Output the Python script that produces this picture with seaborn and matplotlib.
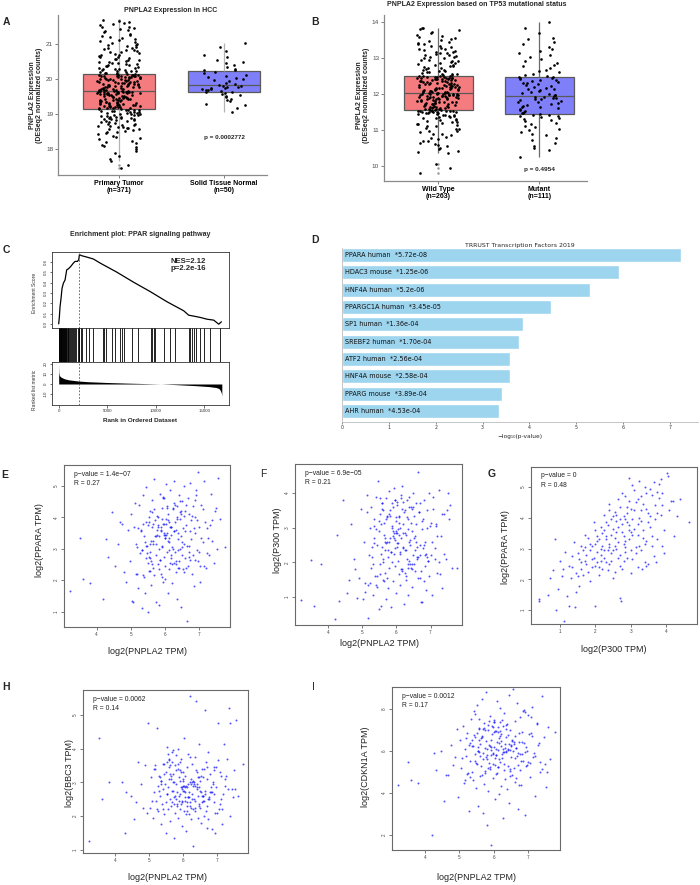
import numpy as np
import pandas as pd
import matplotlib
matplotlib.use("Agg")
import matplotlib.pyplot as plt
import seaborn as sns

# ---------------- data ----------------
# Panel A: PNPLA2 expression in HCC
a_groups = ["Primary Tumor\n(n=371)", "Solid Tissue Normal\n(n=50)"]
a_tumor = [17.45, 17.55, 17.72, 17.80, 17.95, 18.05, 18.12, 18.20, 18.28, 18.35, 18.42, 18.48, 18.52,
           18.56, 18.60, 18.63, 18.66, 18.69, 18.72, 18.75, 18.78, 18.81, 18.84, 18.86, 18.88, 18.90,
           18.92, 18.94, 18.96, 18.98, 19.00, 19.02, 19.04, 19.06, 19.08, 19.10, 19.12, 19.14,
           19.16, 19.17, 19.19, 19.20, 19.22, 19.23, 19.25, 19.26, 19.28, 19.29, 19.31, 19.32, 19.34,
           19.35, 19.37, 19.38, 19.40, 19.41, 19.43, 19.44, 19.46, 19.47, 19.49, 19.50, 19.52, 19.53,
           19.55, 19.56, 19.57, 19.58, 19.59, 19.60, 19.61, 19.62, 19.63, 19.63, 19.64,
           19.66, 19.67, 19.68, 19.70, 19.71, 19.73, 19.74, 19.76, 19.77, 19.79, 19.80, 19.82, 19.83,
           19.85, 19.86, 19.88, 19.89, 19.91, 19.92, 19.94, 19.95, 19.97, 19.98, 20.00, 20.01, 20.03,
           20.04, 20.06, 20.07, 20.08, 20.09, 20.10, 20.11, 20.12, 20.13, 20.13, 20.14,
           20.16, 20.18, 20.20, 20.23, 20.25, 20.28, 20.30, 20.33, 20.36, 20.39, 20.42, 20.45, 20.48,
           20.52, 20.55, 20.58, 20.62, 20.66, 20.70, 20.74, 20.78, 20.82, 20.86, 20.90, 20.94, 20.98,
           21.02, 21.08, 21.14, 21.20, 21.27, 21.34, 21.40, 21.45, 21.50, 21.58, 21.62, 21.70,
           17.65, 17.88, 18.00, 18.10, 18.16, 18.24, 18.31, 18.38, 18.45, 18.50, 18.54, 18.58, 18.61,
           18.64, 18.67, 18.70, 18.73, 18.76, 18.79, 18.82, 18.85, 18.87, 18.89, 18.91, 18.93, 18.95,
           18.97, 18.99, 19.01, 19.03, 19.05, 19.07, 19.09, 19.11, 19.12, 19.13, 19.14,
           19.16, 19.18, 19.19, 19.21, 19.22, 19.24, 19.25, 19.27, 19.28, 19.30, 19.31, 19.33, 19.34,
           19.36, 19.37, 19.39, 19.40, 19.42, 19.43, 19.45, 19.46, 19.48, 19.49, 19.51, 19.52, 19.54,
           19.55, 19.57, 19.58, 19.59, 19.60, 19.61, 19.62, 19.62, 19.63, 19.64, 19.64,
           19.66, 19.66, 19.67, 19.69, 19.70, 19.72, 19.73, 19.75, 19.76, 19.78, 19.79, 19.81, 19.82,
           19.84, 19.85, 19.87, 19.88, 19.90, 19.91, 19.93, 19.94, 19.96, 19.97, 19.99, 20.00, 20.02,
           20.03, 20.05, 20.06, 20.07, 20.08, 20.09, 20.10, 20.11, 20.12, 20.14, 20.14,
           20.17, 20.19, 20.22, 20.24, 20.27, 20.29, 20.32, 20.35, 20.38, 20.41, 20.44, 20.47, 20.50,
           20.54, 20.57, 20.60, 20.64, 20.68, 20.72, 20.76, 20.80, 20.84, 20.88, 20.92, 20.96, 21.00,
           21.05, 21.11, 21.17, 21.24, 21.30, 21.37, 21.43, 21.48, 21.55, 21.60, 21.65]
a_normal = [19.05, 19.18, 19.25, 19.30, 19.36, 19.40, 19.44, 19.48, 19.51, 19.54, 19.57, 19.60, 19.62,
            19.64, 19.66, 19.68, 19.70, 19.71, 19.72, 19.74, 19.75, 19.77, 19.78, 19.80, 19.81,
            19.83, 19.86, 19.90, 19.94, 19.97, 20.00, 20.03, 20.06, 20.09, 20.13, 20.17, 20.21,
            20.25, 20.27, 20.30, 20.35, 20.40, 20.45, 20.50, 20.55, 20.62, 20.70, 20.80, 20.92, 21.02]
a_pvalue = "p = 0.0002772"

# Panel B: PNPLA2 by TP53 status
b_groups = ["Wild Type\n(n=263)", "Mutant\n(n=111)"]
b_wt = [9.80, 9.95, 10.05, 10.35, 10.42, 10.50, 10.58, 10.65, 10.70, 10.75, 10.80, 10.85, 10.90,
        10.94, 10.98, 11.02, 11.06, 11.10, 11.13, 11.16, 11.19, 11.22, 11.25, 11.28, 11.31, 11.34,
        11.37, 11.40, 11.42, 11.44, 11.46, 11.48, 11.50, 11.51, 11.52, 11.53, 11.54, 11.55,
        11.56, 11.58, 11.59, 11.61, 11.62, 11.64, 11.65, 11.67, 11.68, 11.70, 11.71, 11.73, 11.74,
        11.76, 11.77, 11.79, 11.80, 11.82, 11.83, 11.85, 11.86, 11.88, 11.89, 11.91, 11.92, 11.93,
        11.94, 11.95, 11.96, 11.97, 11.98, 11.99, 12.00, 12.00, 12.01, 12.02, 12.02,
        12.04, 12.05, 12.06, 12.08, 12.09, 12.10, 12.12, 12.13, 12.14, 12.16, 12.17, 12.18, 12.20,
        12.21, 12.22, 12.24, 12.25, 12.26, 12.28, 12.29, 12.30, 12.32, 12.33, 12.34, 12.36, 12.37,
        12.38, 12.40, 12.41, 12.42, 12.43, 12.44, 12.45, 12.46, 12.47, 12.48, 12.49,
        12.51, 12.53, 12.55, 12.57, 12.59, 12.61, 12.63, 12.66, 12.69, 12.72, 12.75, 12.78, 12.81,
        12.84, 12.87, 12.90, 12.93, 12.96, 12.99, 13.02, 13.05, 13.08, 13.11, 13.14, 13.18, 13.22,
        13.26, 13.30, 13.34, 13.38, 13.42, 13.47, 13.52, 13.58, 13.64, 13.72, 13.80, 13.85,
        10.38, 10.47, 10.55, 10.62, 10.68, 10.78, 10.88, 10.96, 11.04, 11.11, 11.17, 11.23, 11.29,
        11.33, 11.36, 11.39, 11.41, 11.43, 11.45, 11.47, 11.49, 11.50, 11.51, 11.52, 11.53, 11.54,
        11.54, 11.55,
        11.57, 11.59, 11.61, 11.63, 11.65, 11.67, 11.69, 11.71, 11.73, 11.75, 11.77, 11.79, 11.81,
        11.83, 11.85, 11.87, 11.89, 11.90, 11.91, 11.93, 11.94, 11.95, 11.96, 11.97, 11.98, 11.99,
        12.01, 12.02,
        12.04, 12.06, 12.07, 12.09, 12.11, 12.13, 12.15, 12.17, 12.19, 12.21, 12.23, 12.25, 12.27,
        12.29, 12.31, 12.33, 12.35, 12.37, 12.39, 12.41, 12.43, 12.44, 12.45, 12.46, 12.47, 12.48,
        12.49, 12.49,
        12.52, 12.56, 12.60, 12.64, 12.68, 12.73, 12.77, 12.82, 12.86, 12.91, 12.95, 13.00, 13.04,
        13.09, 13.13, 13.17, 13.21, 13.25, 13.29, 13.33, 13.40, 13.45, 13.50, 13.56, 13.62, 13.70,
        13.78, 13.84]
b_mut = [10.25, 10.45, 10.50, 10.55, 10.65, 10.72, 10.78, 10.85, 10.90, 10.95, 11.00, 11.04, 11.08,
         11.12, 11.16, 11.20, 11.24, 11.28, 11.31, 11.34, 11.36, 11.38, 11.40, 11.41, 11.42,
         11.44, 11.46, 11.48, 11.50, 11.53, 11.55, 11.58, 11.60, 11.63, 11.65, 11.68, 11.70, 11.72,
         11.75, 11.77, 11.79, 11.81, 11.83, 11.85, 11.87, 11.89, 11.90, 11.92, 11.93, 11.94,
         11.96, 11.98, 12.00, 12.03, 12.05, 12.08, 12.10, 12.13, 12.15, 12.18, 12.20, 12.22, 12.25,
         12.27, 12.30, 12.32, 12.34, 12.36, 12.38, 12.40, 12.42, 12.44, 12.46, 12.47, 12.48,
         12.50, 12.53, 12.56, 12.60, 12.64, 12.68, 12.72, 12.77, 12.82, 12.87, 12.92, 12.97, 13.02,
         13.08, 13.14, 13.20, 13.25, 13.30, 13.38, 13.46, 13.52, 13.55, 13.70, 13.85, 14.00]
b_pvalue = "p = 0.4954"

# Panel C: GSEA enrichment plot
c_es_rank = [0, 69, 138, 241, 344, 482, 654, 826, 998, 1239, 1514, 1686, 1927, 2065, 2133, 2374,
             2890, 3579, 4267, 5988, 7708, 9428, 11149, 12869, 13386, 13902, 14590, 15278, 15967,
             16483, 16757]
c_es_score = [0.0, 0.068, 0.166, 0.247, 0.344, 0.393, 0.425, 0.523, 0.532, 0.555, 0.588, 0.604,
              0.604, 0.62, 0.669, 0.659, 0.646, 0.627, 0.588, 0.50, 0.403, 0.312, 0.214, 0.127,
              0.084, 0.075, 0.062, 0.045, 0.036, -0.003, 0.02]
c_hits = [20, 60, 110, 150, 190, 240, 280, 330, 370, 410, 460, 500, 560, 610, 660, 720, 790, 850,
          920, 1000, 1080, 1150, 1250, 1330, 1450, 1560, 1680, 1800, 1950, 2060, 2130, 2300, 2450,
          2822, 3166, 3579, 4542, 4680, 4887, 5471, 5816, 6332, 6504, 6745, 7536, 8121, 9532, 9635,
          9773, 9945, 10805, 11494, 12010, 13455, 13558, 13730, 13902, 14143, 14590, 15003, 15554,
          16586]
c_metric_rank = [0, 20, 60, 150, 300, 600, 1000, 2000, 3000, 5000, 7000, 9000, 10500, 12000,
                 14000, 15500, 16200, 16500, 16650, 16750, 16800]
c_metric = [20, 12, 9, 7.5, 6.5, 5.2, 4.2, 3.0, 2.3, 1.5, 0.9, 0.4, 0.0, -0.6, -1.6, -2.6, -3.5,
            -4.5, -6.5, -9, -12]
c_peak_rank = 2130
c_nes = "NES=2.12\np=2.2e-16"

# Panel D: TRRUST Transcription Factors 2019
d_terms = ["PPARA human", "HDAC3 mouse", "HNF4A human", "PPARGC1A human", "SP1 human",
           "SREBF2 human", "ATF2 human", "HNF4A mouse", "PPARG mouse", "AHR human"]
d_pstr = ["5.72e-08", "1.25e-06", "5.2e-06", "3.45e-05", "1.36e-04", "1.70e-04", "2.56e-04",
          "2.58e-04", "3.89e-04", "4.53e-04"]
d_pvals = [float(p) for p in d_pstr]

# Panels E, F, H, I: GEPIA correlations (shared PNPLA2 values)
pnpla2 = [3.22, 3.50, 3.60, 3.80, 4.20, 4.27, 4.32, 4.45, 4.55, 4.62, 4.68, 4.75, 4.80, 4.86, 4.92,
          4.97, 5.02, 5.05, 5.10, 5.13, 5.16, 5.20, 5.22, 5.25, 5.27, 5.30, 5.32, 5.34, 5.36, 5.38,
          5.40, 5.42, 5.44, 5.46, 5.48, 5.50, 5.51, 5.53, 5.55, 5.56, 5.58, 5.60, 5.61, 5.63, 5.64,
          5.66, 5.67, 5.69, 5.70, 5.72, 5.73, 5.75, 5.76, 5.78, 5.79, 5.81, 5.82, 5.84, 5.85, 5.87,
          5.88, 5.90, 5.91, 5.93, 5.94, 5.96, 5.97, 5.99, 6.00, 6.02, 6.03, 6.05, 6.06, 6.08, 6.09,
          6.11, 6.12, 6.14, 6.15, 6.17, 6.18, 6.20, 6.21, 6.23, 6.24, 6.26, 6.27, 6.29, 6.30, 6.32,
          6.33, 6.35, 6.36, 6.38, 6.40, 6.41, 6.43, 6.45, 6.47, 6.48, 6.50, 6.52, 6.54, 6.56, 6.58,
          6.60, 6.62, 6.64, 6.66, 6.68, 6.70, 6.72, 6.75, 6.77, 6.80, 6.82, 6.85, 6.88, 6.91, 6.94,
          6.97, 7.00, 7.04, 7.08, 7.12, 7.16, 7.20, 7.25, 7.30, 7.35, 7.40, 7.45, 7.50, 7.56, 7.62,
          5.08, 5.35, 5.57, 5.74, 5.92, 6.07, 6.19, 6.34, 6.46, 6.61, 6.74, 6.90, 7.05, 7.28, 7.78,
          6.05, 5.48, 6.72, 5.91, 6.38, 5.22, 6.88, 6.14, 5.67, 6.51, 5.83, 7.12, 6.27, 5.58, 6.95,
          6.02, 5.36, 6.63, 6.19, 5.77, 6.44, 5.95, 7.33, 5.62, 6.09, 6.81, 5.45, 6.33, 5.88, 7.02,
          6.24, 5.71, 6.57, 5.15, 6.12, 6.69, 5.99, 7.48, 6.36, 5.54, 6.78, 6.01, 5.29, 6.46, 5.86,
          7.18, 6.22, 5.64, 6.55, 5.97, 6.92, 5.41, 6.30, 6.85, 5.79, 6.16, 7.40, 5.51, 6.42, 6.07,
          5.74, 6.60, 5.93, 7.08, 6.28, 5.57, 6.75, 6.03, 5.32, 6.49, 5.84, 6.98, 6.18, 5.69, 6.65,
          7.25, 5.96, 6.40, 5.18, 6.11, 6.83, 5.61, 6.35, 5.90, 7.55, 6.21, 5.44, 6.58, 6.00, 6.90,
          5.80, 6.47, 5.66, 7.15, 6.26, 5.53, 6.70, 6.13, 5.98, 6.52]
ppara = [1.65, 3.35, 2.05, 1.90, 1.40, 3.30, 2.72, 4.15, 2.45, 3.15, 3.85, 3.78, 2.25, 1.95, 3.60,
         2.60, 4.10, 1.35, 3.70, 4.45, 2.20, 3.05, 1.75, 4.40, 2.85, 3.55, 1.10, 2.95, 4.70, 2.10,
         3.40, 1.60, 2.70, 4.95, 3.10, 1.00, 2.55, 3.85, 2.30, 4.20, 3.15, 1.85, 2.60, 3.70, 4.55,
         2.40, 3.25, 5.20, 2.15, 3.90, 1.30, 2.80, 4.05, 3.45, 2.50, 3.75, 1.20, 3.00, 4.75, 2.65,
         3.55, 2.20, 4.30, 3.10, 1.95, 3.80, 2.75, 4.60, 3.35, 2.45, 3.95, 5.05, 2.90, 3.50, 1.60,
         4.10, 3.20, 2.35, 3.70, 4.85, 2.70, 3.45, 1.90, 4.25, 3.00, 5.15, 2.55, 3.85, 4.40, 2.25,
         3.60, 1.40, 4.00, 2.95, 3.30, 4.70, 2.60, 3.95, 1.15, 3.40, 4.50, 2.80, 3.65, 5.00, 3.15,
         4.20, 2.40, 3.75, 0.70, 4.60, 3.10, 2.75, 5.10, 3.90, 2.20, 4.35, 1.80, 3.50, 4.85, 2.95,
         5.45, 3.70, 2.45, 4.40, 3.20, 5.15, 2.40, 3.65, 2.80, 4.75, 3.90, 2.55, 4.30, 5.25, 3.95,
         1.30, 3.80, 2.90, 3.40, 2.10, 4.30, 3.70, 2.50, 4.15, 3.55, 2.65, 4.00, 1.95, 3.35, 3.05,
         3.45, 2.85, 4.10, 3.05, 2.40, 3.65, 4.55, 2.95, 3.80, 3.20, 2.35, 4.25, 3.55, 2.70, 3.90,
         3.35, 2.15, 4.40, 2.80, 3.60, 3.00, 4.65, 3.75, 2.50, 3.25, 4.05, 3.10, 2.60, 3.70, 2.90,
         4.30, 3.40, 2.25, 3.15, 3.85, 2.45, 3.50, 4.20, 3.95, 2.75, 3.30, 2.05, 3.60, 4.50, 2.65,
         3.85, 3.05, 4.15, 2.35, 3.45, 4.70, 3.20, 2.90, 3.65, 4.00, 2.55, 3.25, 3.75, 2.40, 4.35,
         3.15, 2.70, 3.95, 3.35, 4.45, 2.30, 3.55, 3.80, 2.95, 4.10, 3.40, 2.60, 3.70, 4.25, 3.10,
         2.85, 4.60, 3.50, 2.20, 3.90, 2.80, 3.25, 4.35, 3.60, 3.00, 2.50, 3.85, 4.05, 3.45, 2.65,
         3.70, 4.20, 3.15, 2.45, 3.55, 4.00, 2.90, 3.35, 3.80, 3.05]
p300 = [0.90, 2.07, 0.75, 1.95, 0.37, 2.80, 0.88, 3.80, 1.12, 1.48, 3.12, 2.10, 1.80, 0.97, 1.55,
        3.55, 0.95, 2.60, 1.40, 3.45, 0.40, 2.20, 3.00, 1.85, 3.60, 2.45, 1.05, 3.25, 2.70, 1.60,
        3.90, 1.35, 2.50, 4.35, 0.65, 2.90, 1.95, 3.40, 2.25, 0.75, 3.70, 2.10, 1.50, 2.80, 3.15,
        1.70, 2.35, 3.85, 0.95, 2.60, 3.30, 1.25, 2.15, 4.05, 1.85, 2.70, 3.50, 0.70, 2.30, 3.05,
        2.00, 3.60, 1.45, 2.85, 4.15, 1.90, 2.40, 3.20, 1.10, 2.55, 3.75, 2.05, 2.95, 1.65, 3.35,
        2.25, 1.35, 3.95, 2.70, 1.80, 4.20, 2.45, 3.10, 0.80, 2.85, 3.50, 1.60, 2.35, 3.80, 2.10,
        1.05, 3.25, 2.60, 3.90, 1.95, 2.50, 3.60, 1.30, 2.90, 4.00, 2.20, 3.35, 1.75, 2.75, 3.10,
        2.45, 4.60, 1.55, 3.45, 2.20, 3.70, 0.85, 2.95, 3.25, 1.45, 3.80, 2.60, 1.20, 3.50, 2.05,
        4.00, 3.15, 1.05, 3.55, 2.40, 3.05, 1.70, 4.10, 2.75, 1.25, 3.40, 2.10, 4.00, 3.65, 1.85,
        1.15, 2.55, 3.70, 1.55, 2.25, 3.30, 2.85, 1.95, 3.55, 2.15, 0.85, 3.00, 2.60, 1.65, 1.85,
        2.55, 3.20, 1.75, 2.90, 3.60, 1.40, 2.25, 3.85, 2.70, 1.95, 3.35, 2.10, 2.80, 3.55, 1.60,
        2.45, 3.05, 2.15, 3.75, 2.35, 1.85, 2.65, 3.40, 2.00, 3.15, 2.50, 1.30, 2.95, 3.70, 2.20,
        1.70, 3.25, 2.60, 3.95, 2.30, 1.55, 2.85, 3.50, 2.05, 3.10, 2.40, 3.65, 2.15, 1.80, 3.00,
        2.75, 3.45, 1.45, 2.35, 3.80, 2.05, 2.95, 3.30, 1.90, 2.60, 3.55, 2.25, 1.65, 3.15, 2.80,
        3.35, 2.10, 2.70, 3.90, 1.50, 2.45, 3.20, 2.85, 1.95, 3.60, 2.30, 3.05, 1.75, 2.55, 3.45,
        2.00, 3.80, 2.65, 1.35, 3.00, 2.20, 3.50, 1.85, 2.75, 3.25, 2.40, 1.60, 3.70, 2.90, 2.15,
        3.40, 1.95, 2.60, 3.10, 2.35, 3.85, 2.50, 1.80, 3.30, 2.70]
bbc3 = [1.25, 4.30, 2.50, 3.00, 3.00, 1.48, 2.70, 2.60, 1.90, 2.40, 3.60, 2.95, 2.25, 3.50, 2.10,
        4.75, 2.25, 3.15, 1.95, 2.70, 3.40, 2.45, 4.60, 2.90, 2.15, 3.20, 2.60, 1.75, 3.05, 2.35,
        2.80, 3.55, 2.05, 2.95, 1.50, 3.30, 2.65, 4.05, 2.20, 2.85, 3.65, 1.85, 2.50, 3.10, 2.30,
        3.90, 2.40, 2.75, 3.25, 1.35, 2.55, 3.50, 2.10, 2.95, 3.80, 2.35, 2.70, 4.00, 1.95, 3.15,
        2.60, 3.35, 2.20, 2.85, 3.70, 1.70, 2.45, 3.05, 2.75, 4.30, 2.15, 3.20, 2.55, 1.55, 2.90,
        3.45, 2.30, 2.95, 3.85, 2.05, 2.70, 5.55, 2.40, 3.10, 1.90, 2.65, 3.55, 2.20, 1.10, 3.00,
        2.50, 3.75, 2.15, 5.40, 2.80, 3.30, 1.95, 2.60, 4.15, 2.35, 3.05, 2.70, 1.80, 3.40, 2.45,
        3.15, 2.00, 5.15, 2.75, 3.60, 2.30, 1.65, 3.90, 2.55, 3.25, 2.85, 1.60, 3.00, 2.40, 1.50,
        3.45, 2.10, 4.75, 3.30, 2.50, 1.75, 4.15, 2.90, 3.70, 5.20, 4.75, 2.80, 3.35, 4.85, 2.60,
        2.45, 2.95, 3.10, 2.35, 3.60, 2.70, 3.00, 2.25, 2.85, 3.40, 1.90, 2.65, 2.20, 3.20, 3.55,
        2.85, 2.40, 3.10, 2.65, 3.35, 2.20, 2.95, 2.55, 3.60, 2.75, 2.30, 3.20, 2.50, 3.45, 2.10,
        2.90, 3.05, 2.45, 3.75, 2.60, 3.15, 2.35, 2.80, 3.50, 2.05, 2.70, 3.25, 2.95, 2.45, 3.65,
        2.25, 3.00, 2.60, 3.40, 2.85, 2.15, 3.30, 2.55, 2.90, 3.85, 2.50, 3.10, 2.75, 2.30, 3.55,
        2.65, 2.95, 3.20, 2.40, 2.80, 3.45, 2.20, 3.05, 2.70, 3.35, 2.55, 2.00, 3.60, 2.85, 2.45,
        3.00, 2.60, 3.30, 2.35, 2.90, 3.70, 2.50, 2.75, 3.15, 2.25, 3.40, 2.85, 2.55, 3.95, 2.65,
        3.10, 2.40, 2.95, 3.50, 2.15, 2.70, 3.25, 2.45, 3.05, 2.80, 2.30, 3.55, 2.60, 2.90, 3.35,
        2.50, 3.15, 2.75, 2.20, 3.00, 2.65, 3.45, 2.40, 2.85, 3.20]
cdkn1a = [4.40, 5.50, 4.60, 4.50, 2.00, 5.90, 5.10, 6.00, 3.60, 4.85, 4.85, 6.30, 5.35, 5.70, 7.05,
          3.80, 6.55, 5.20, 7.20, 4.50, 6.10, 5.75, 6.85, 4.95, 3.15, 6.40, 5.55, 7.55, 5.00, 6.25,
          4.60, 7.90, 5.85, 6.65, 4.25, 5.40, 8.20, 6.00, 3.40, 5.95, 7.10, 4.80, 6.35, 5.30, 8.50,
          6.70, 3.05, 5.60, 7.35, 4.45, 6.15, 5.05, 8.80, 6.50, 2.50, 5.80, 7.00, 4.10, 6.30, 5.45,
          7.65, 5.15, 6.05, 1.55, 6.80, 4.70, 5.90, 7.40, 6.20, 3.70, 5.65, 6.95, 4.90, 8.40, 6.45,
          5.25, 7.15, 3.95, 6.60, 5.50, 8.05, 4.35, 6.25, 5.85, 7.50, 2.80, 6.10, 5.40, 7.80, 4.65,
          6.35, 5.95, 7.25, 4.20, 6.75, 5.30, 8.65, 3.55, 6.05, 7.00, 5.70, 4.85, 6.55, 8.95, 5.20,
          7.45, 4.55, 6.15, 5.75, 8.30, 3.25, 6.45, 5.10, 7.60, 4.40, 6.90, 5.55, 7.95, 2.95, 6.20,
          5.35, 7.70, 4.75, 6.85, 8.10, 5.90, 3.85, 7.30, 6.40, 5.00, 8.60, 6.65, 4.30, 7.15, 5.60,
          5.65, 6.25, 7.05, 4.95, 6.55, 5.80, 7.40, 6.00, 5.15, 6.70, 4.40, 7.85, 5.45, 6.30, 6.90,
          6.10, 5.45, 6.85, 5.80, 7.30, 4.90, 6.40, 5.60, 7.05, 6.25, 5.20, 6.70, 5.95, 7.55, 6.00,
          5.35, 6.55, 4.70, 6.95, 5.70, 6.35, 7.20, 5.50, 6.60, 4.95, 5.85, 7.75, 6.15, 5.25, 6.80,
          5.65, 7.10, 6.45, 4.60, 6.05, 5.90, 7.40, 5.40, 6.65, 6.20, 5.55, 6.90, 6.30, 5.05, 7.45,
          5.75, 6.50, 4.85, 6.00, 7.15, 5.30, 6.75, 5.95, 7.90, 5.60, 6.40, 5.15, 6.85, 6.10, 5.80,
          7.00, 5.65, 6.20, 7.60, 5.10, 6.55, 5.85, 6.95, 4.75, 6.30, 7.25, 5.50, 6.70, 5.90, 6.15,
          7.35, 5.40, 6.05, 6.60, 5.25, 6.45, 5.75, 7.05, 6.25, 5.00, 6.80, 5.55, 6.35, 7.50, 5.95,
          6.10, 4.80, 6.65, 5.70, 7.20, 6.00, 5.35, 6.90, 5.85, 6.50]
# Panel G: P300 vs PPARA
g_p300 = [2.85, 1.60, 3.30, 2.20, 3.75, 1.15, 2.55, 3.05, 2.00, 3.55,
          2.40, 1.85, 3.20, 2.70, 0.95, 3.90, 2.30, 2.95, 1.45, 3.40,
          2.15, 2.80, 3.65, 1.70, 2.50, 3.10, 1.25, 2.65, 3.95, 2.05,
          3.35, 1.90, 2.75, 3.50, 1.05, 2.45, 3.15, 2.25, 3.80, 1.55,
          2.90, 3.25, 2.10, 1.80, 2.60, 3.70, 1.35, 2.35, 3.00, 4.05,
          2.55, 1.95, 3.45, 2.80, 0.80, 3.10, 2.20, 3.60, 1.65, 2.70,
          3.30, 2.05, 2.95, 1.40, 3.85, 2.40, 3.20, 1.75, 2.85, 3.55,
          1.20, 2.60, 3.40, 2.15, 3.00, 1.90, 2.45, 3.75, 2.30, 1.50,
          3.15, 2.75, 0.65, 3.95, 2.10, 2.90, 3.35, 1.60, 2.50, 3.65,
          2.25, 3.05, 1.85, 2.65, 3.50, 1.30, 2.40, 4.20, 2.00, 2.85,
          3.25, 1.70, 2.55, 3.80, 2.15, 1.00, 3.00, 2.35, 3.45, 2.80,
          1.55, 3.60, 2.05, 2.70, 3.30, 1.80, 2.45, 3.90, 2.95, 1.45,
          2.60, 3.15, 2.25, 3.70, 1.95, 2.85, 3.40, 1.10, 2.50, 3.20,
          2.00, 2.75, 3.55, 1.65, 2.30, 4.10, 2.90, 1.35, 3.05, 2.40,
          3.85, 2.15, 2.65, 3.25, 1.75, 2.95, 3.50, 2.20, 1.50, 2.80,
          0.40, 0.42, 0.72, 0.85, 0.90, 1.12, 2.00, 2.70, 2.72, 4.02,
          4.65, 4.40, 4.30, 1.42, 1.25, 3.32, 3.45, 3.73, 4.15, 4.22,
          2.35, 2.60, 3.10, 2.05, 2.85, 3.35, 1.90, 2.50, 3.00, 2.70,
          3.60, 2.25, 1.60, 3.20, 2.45, 2.90, 3.75, 2.10, 2.75, 3.45,
          1.70, 2.55, 3.05, 2.30, 3.90, 2.40, 2.95, 1.85, 3.30, 2.65]
g_ppara = [3.95, 2.55, 4.70, 2.35, 3.30, 2.90, 4.20, 2.65, 3.60, 4.95,
           3.05, 1.95, 3.80, 2.45, 1.70, 4.40, 3.85, 4.55, 2.20, 3.15,
           2.80, 3.40, 5.15, 3.05, 2.05, 4.25, 2.45, 3.70, 2.85, 3.25,
           3.60, 2.65, 4.80, 2.50, 2.10, 3.45, 3.05, 4.10, 4.65, 1.80,
           2.70, 5.20, 2.40, 3.35, 3.90, 3.95, 2.75, 2.95, 3.55, 5.35,
           2.25, 3.85, 4.30, 3.15, 2.30, 4.90, 3.50, 3.40, 2.15, 4.35,
           2.95, 2.90, 3.75, 3.20, 4.10, 4.45, 2.40, 2.50, 3.25, 4.05,
           1.45, 3.00, 5.00, 3.70, 2.20, 3.10, 2.60, 4.85, 3.30, 2.85,
           4.50, 3.80, 1.50, 3.60, 2.15, 4.15, 3.35, 2.35, 3.65, 2.75,
           2.70, 5.05, 2.95, 4.60, 3.85, 2.05, 3.15, 4.55, 2.45, 2.90,
           4.00, 3.45, 3.35, 5.10, 3.00, 2.60, 4.30, 2.30, 3.25, 4.05,
           2.65, 4.75, 3.40, 2.80, 3.90, 2.25, 3.95, 3.10, 3.30, 1.60,
           4.10, 2.85, 3.60, 4.40, 2.70, 4.70, 2.55, 2.35, 2.95, 4.60,
           3.15, 3.55, 3.70, 2.95, 2.55, 4.25, 3.85, 2.40, 3.45, 4.25,
           5.25, 2.60, 3.20, 3.10, 2.80, 5.30, 4.15, 3.10, 2.10, 2.60,
           1.35, 1.30, 2.05, 3.30, 1.00, 0.65, 1.15, 1.40, 1.30, 5.45,
           3.85, 4.60, 4.05, 1.10, 1.15, 2.35, 2.45, 2.55, 4.55, 3.40,
           3.75, 3.55, 3.65, 2.55, 3.05, 4.45, 2.40, 4.05, 2.95, 3.95,
           3.10, 2.95, 3.10, 3.45, 2.85, 4.35, 4.15, 3.30, 2.35, 4.80,
           2.60, 3.10, 3.95, 3.40, 4.80, 2.50, 3.60, 3.15, 4.25, 2.70]

# ---------------- figure ----------------
sns.set_theme(style="ticks")
plt.rcParams['font.family'] = ['Liberation Sans', 'DejaVu Sans']

W, H = 700, 885
fig = plt.figure(figsize=(7, 8.85), dpi=100)


def add_ax(x0, y0, x1, y1):
    return fig.add_axes([x0 / W, 1 - y1 / H, (x1 - x0) / W, (y1 - y0) / H])


def ftext(x, y, s, **kw):
    kw.setdefault("ha", "center")
    kw.setdefault("va", "center")
    return fig.text(x / W, 1 - y / H, s, **kw)


box_colors = ["#F47B7E", "#7F7FFA"]


def box_panel(box, groups, vals1, vals2, xlim, ylim, yticks, whisker_color, seed):
    ax = add_ax(*box)
    df = pd.DataFrame({"group": [groups[0]] * len(vals1) + [groups[1]] * len(vals2),
                       "value": vals1 + vals2})
    sns.boxplot(data=df, x="group", y="value", hue="group", order=groups, hue_order=groups,
                palette=box_colors, legend=False, width=0.68, saturation=1, linewidth=0.9,
                linecolor="#5a5a5a",
                whiskerprops=dict(color=whisker_color, linewidth=0.9),
                capprops=dict(linewidth=0),
                flierprops=dict(marker="o", markersize=1.8, markerfacecolor="#9a9a9a",
                                markeredgecolor="none"),
                ax=ax)
    np.random.seed(seed)
    sns.stripplot(data=df, x="group", y="value", order=groups, color="black", size=1.9,
                  jitter=0.21, linewidth=0, ax=ax, zorder=3)
    ax.set_xlim(*xlim)
    ax.set_ylim(*ylim)
    ax.set_yticks(yticks)
    ax.set_xlabel("")
    ax.set_ylabel("")
    ax.set_xticks([0, 1])
    ax.set_xticklabels(groups, fontsize=5, fontweight="bold", linespacing=0.95)
    ax.tick_params(axis="y", labelsize=4.6, length=2, width=0.5, colors="#4d4d4d", pad=1.5)
    ax.tick_params(axis="x", length=2, width=0.5, colors="#4d4d4d", pad=1.5)
    for lbl in ax.get_xticklabels():
        lbl.set_color("black")
    sns.despine(ax=ax)
    for s in ["left", "bottom"]:
        ax.spines[s].set_color("#8a8a8a")
        ax.spines[s].set_linewidth(0.9)
    return ax


# Panel A
box_panel((58, 15, 267, 175), a_groups, a_tumor, a_normal, (-0.58, 1.41), (17.26, 21.83),
          [18, 19, 20, 21], "#b3b3b3", 3)
ftext(171, 11, "PNPLA2 Expression in HCC", fontsize=5, fontweight="bold")
ftext(36, 95, "PNPLA2 Expression\n(DESeq2 normalized counts)", rotation=90, fontsize=5,
      fontweight="bold", linespacing=0.95)
ftext(224, 138, a_pvalue, fontsize=4.6, fontweight="bold")

# Panel B
box_panel((384, 15, 587, 181), b_groups, b_wt, b_mut, (-0.535, 1.47), (9.58, 14.2),
          [10, 11, 12, 13, 14], "#6a6a6a", 7)
ftext(477, 5, "PNPLA2 Expression based on TP53 mutational status", fontsize=5, fontweight="bold")
ftext(363, 95, "PNPLA2 Expression\n(DESeq2 normalized counts)", rotation=90, fontsize=5,
      fontweight="bold", linespacing=0.95)
ftext(539, 170, b_pvalue, fontsize=4.6, fontweight="bold")

# Panel C: GSEA
xl = (-690, 17540)
axC1 = add_ax(52, 252, 229, 328)
sns.lineplot(x=c_es_rank, y=c_es_score, ax=axC1, color="black", linewidth=0.9, sort=False,
             estimator=None)
axC1.axvline(c_peak_rank, color="#555555", ls=(0, (2, 2)), lw=0.6)
axC1.set_xlim(*xl)
axC1.set_ylim(-0.04, 0.695)
axC1.set_xticks([])
axC1.set_yticks([0, 0.1, 0.2, 0.3, 0.4, 0.5, 0.6])
axC1.set_yticklabels(["0.0", "0.1", "0.2", "0.3", "0.4", "0.5", "0.6"], rotation=90, va="center")
axC1.tick_params(axis="y", labelsize=3.2, length=1.8, width=0.5, pad=1, colors="#333333")
for sp in axC1.spines.values():
    sp.set_color("#333333")
    sp.set_linewidth(0.6)
axC1.text(0.67, 0.92, c_nes, transform=axC1.transAxes, fontsize=5.6, fontweight="bold",
          va="top", ha="left", linespacing=1.0)

axC2 = add_ax(52, 328, 229, 362)
axC2.vlines(c_hits, 0, 1, color="black", lw=0.6)
axC2.set_xlim(*xl)
axC2.set_ylim(0, 1)
axC2.axis("off")

axC3 = add_ax(52, 362, 229, 405)
axC3.fill_between(c_metric_rank, c_metric, 0, color="black", lw=0)
axC3.axvline(c_peak_rank, color="#555555", ls=(0, (2, 2)), lw=0.6)
axC3.set_xlim(*xl)
axC3.set_ylim(-21, 22)
axC3.set_yticks([-10, 0, 10, 20])
axC3.set_yticklabels(["-10", "0", "10", "20"], rotation=90, va="center")
axC3.set_xticks([0, 5000, 10000, 15000])
axC3.tick_params(labelsize=3.2, length=1.8, width=0.5, pad=1, colors="#333333")
for sp in axC3.spines.values():
    sp.set_color("#333333")
    sp.set_linewidth(0.6)
ftext(140, 234, "Enrichment plot: PPAR signaling pathway", fontsize=5, fontweight="bold")
ftext(34, 293, "Enrichment Score", rotation=90, fontsize=3.6, color="#333333")
ftext(34, 390, "Ranked list metric", rotation=90, fontsize=3.6, color="#333333")
ftext(140, 421, "Rank in Ordered Dataset", fontsize=4.6, fontweight="bold")

# Panel D: Enrichr bar chart
axD = add_ax(342, 248, 698, 422)
dfD = pd.DataFrame({"term": d_terms, "score": -np.log10(d_pvals)})
sns.barplot(data=dfD, x="score", y="term", orient="h", color="#9DD4EE", width=0.8,
            saturation=1, ax=axD)
for i, (t, p) in enumerate(zip(d_terms, d_pstr)):
    axD.text(0.06, i, f"{t}  *{p}", va="center", ha="left", fontsize=4.7,
             family="DejaVu Sans", color="#111111")
axD.set_ylim(9.63, -0.4)
axD.set_xlim(0, 7.6)
axD.set_yticks([])
axD.set_xticks(range(8))
axD.set_xlabel("")
axD.set_ylabel("")
axD.tick_params(axis="x", labelsize=3.4, length=1.5, width=0.4, pad=0.8, colors="#333333")
for lbl in axD.get_xticklabels():
    lbl.set_family("DejaVu Sans")
sns.despine(ax=axD)
for s in ["left", "bottom"]:
    axD.spines[s].set_color("#bbbbbb")
    axD.spines[s].set_linewidth(0.6)
ftext(520, 245, "TRRUST Transcription Factors 2019", fontsize=4.5, family="DejaVu Sans")
ftext(520, 436, "\u2212log\u2081\u2080(p\u2010value)", fontsize=4.2, family="DejaVu Sans")


# Panels E-I: scatter plots
def scatter_panel(box, x, y, xlim, ylim, xticks, yticks, xlabel, ylabel, ptxt, rtxt,
                  xlab_pos, ylab_pos):
    ax = add_ax(*box)
    sns.scatterplot(x=x, y=y, ax=ax, s=2.0, color="#1a1aff", alpha=0.75, linewidth=0)
    ax.set_xlim(*xlim)
    ax.set_ylim(*ylim)
    ax.set_xticks(xticks)
    ax.set_yticks(yticks)
    ax.set_yticklabels([str(v) for v in yticks], rotation=90, va="center")
    ax.tick_params(labelsize=3.3, length=2, width=0.5, pad=1.5, colors="#444444")
    for sp in ax.spines.values():
        sp.set_visible(True)
        sp.set_color("#6a6a6a")
        sp.set_linewidth(0.8)
    ax.text(0.06, 0.965, ptxt, transform=ax.transAxes, fontsize=4.9, va="top", ha="left",
            color="#222222")
    ax.text(0.06, 0.905, rtxt, transform=ax.transAxes, fontsize=4.9, va="top", ha="left",
            color="#222222")
    ftext(*xlab_pos, xlabel, fontsize=6.5, color="#222222")
    ftext(*ylab_pos, ylabel, fontsize=6.5, rotation=90, color="#222222")
    return ax


px_lim = (3.04, 7.92)
scatter_panel((64, 465, 230, 627), pnpla2, ppara, px_lim, (0.51, 5.66), [4, 5, 6, 7],
              [1, 2, 3, 4, 5], "log2(PNPLA2 TPM)", "log2(PPARA TPM)",
              "p\u2212value = 1.4e\u221207", "R = 0.27", (148, 651), (40, 540))
scatter_panel((295, 464, 462, 625), pnpla2, p300, px_lim, (0.19, 4.84), [4, 5, 6, 7],
              [1, 2, 3, 4], "log2(PNPLA2 TPM)", "log2(P300 TPM)",
              "p\u2212value = 6.9e\u221205", "R = 0.21", (380, 643), (277, 540))
scatter_panel((531, 467, 697, 624), g_p300, g_ppara, (0.18, 4.88), (0.55, 5.65), [1, 2, 3, 4],
              [1, 2, 3, 4, 5], "log2(P300 TPM)", "log2(PPARA TPM)",
              "p\u2212value = 0", "R = 0.48", (614, 650), (505, 547))
scatter_panel((83, 690, 248, 853), pnpla2, bbc3, px_lim, (0.9, 5.74), [4, 5, 6, 7],
              [1, 2, 3, 4, 5], "log2(PNPLA2 TPM)", "log2(BBC3 TPM)",
              "p\u2212value = 0.0062", "R = 0.14", (167, 878), (70, 773))
scatter_panel((392, 687, 560, 850), pnpla2, cdkn1a, px_lim, (1.29, 9.05), [4, 5, 6, 7],
              [2, 4, 6, 8], "log2(PNPLA2 TPM)", "log2(CDKN1A TPM)",
              "p\u2212value = 0.0012", "R = 0.17", (476, 877), (365, 767))

# panel letters
for letter, x, y, wt in [("A", 6, 22, "bold"), ("B", 315, 22, "bold"), ("C", 6, 250, "bold"),
                         ("D", 315, 240, "bold"), ("E", 5, 475, "bold"), ("F", 263, 474, "normal"),
                         ("G", 492, 474, "bold"), ("H", 6, 687, "bold"), ("I", 313, 687, "normal")]:
    ftext(x, y, letter, fontsize=7.5, fontweight=wt)

fig.savefig("out.png", dpi=100)
